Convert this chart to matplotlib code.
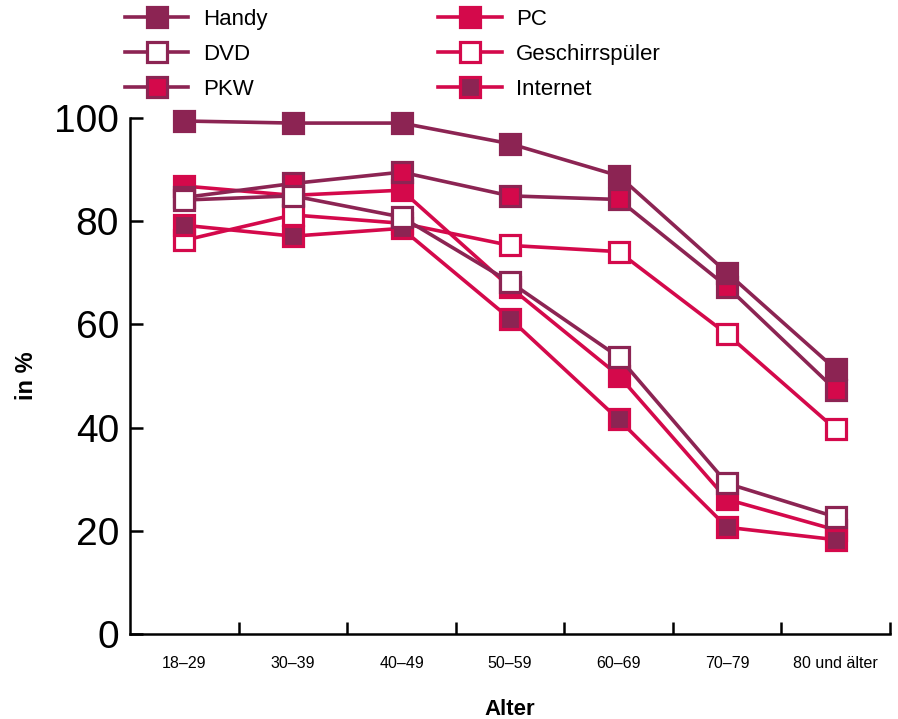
import matplotlib
matplotlib.use("Agg")
import matplotlib.pyplot as plt
from matplotlib.ticker import FixedLocator

plt.rcParams["font.family"] = ["Liberation Sans", "DejaVu Sans"]

DARK = "#8c2453"
RED = "#d4094b"

ages = ["18–29", "30–39", "40–49", "50–59", "60–69", "70–79", "80 und älter"]

handy = [99.4, 99.0, 99.0, 95.0, 88.8, 70.0, 51.3]
dvd = [84.1, 84.9, 80.8, 68.2, 53.7, 29.2, 22.7]
pkw = [84.6, 87.3, 89.5, 84.9, 84.2, 67.3, 47.3]
pc = [86.8, 85.0, 86.0, 67.2, 50.1, 26.1, 20.2]
geschirr = [76.3, 81.2, 79.6, 75.3, 74.1, 58.1, 39.7]
internet = [79.2, 77.1, 78.6, 61.1, 41.6, 20.7, 18.3]

# name, values, line colour, face colour, edge colour, zorder
SERIES = [
    ("PC", pc, RED, RED, RED, 3),
    ("Geschirrspüler", geschirr, RED, "white", RED, 4),
    ("PKW", pkw, DARK, RED, DARK, 5),
    ("Internet", internet, RED, DARK, RED, 6),
    ("Handy", handy, DARK, DARK, DARK, 7),
    ("DVD", dvd, DARK, "white", DARK, 8),
]
LEGEND_ORDER = ["Handy", "DVD", "PKW", "PC", "Geschirrspüler", "Internet"]

fig = plt.figure(figsize=(8.98, 7.19), dpi=100)
ax = fig.add_axes([0.145, 0.118, 0.846, 0.718])

xs = list(range(len(ages)))
handles = {}
for name, values, lc, fc, ec, z in SERIES:
    (line,) = ax.plot(
        xs, values, color=lc, linewidth=2.6, marker="s", markersize=14,
        markerfacecolor=fc, markeredgecolor=ec, markeredgewidth=2.3,
        zorder=z, clip_on=False, label=name,
    )
    handles[name] = line

ax.set_xlim(-0.5, len(ages) - 0.5)
ax.set_ylim(0, 100)
ax.set_yticks([0, 20, 40, 60, 80, 100])
ax.set_xticks(xs)
ax.set_xticklabels(ages, fontsize=11.5)
ax.xaxis.set_minor_locator(FixedLocator([i + 0.5 for i in range(len(ages))]))
ax.tick_params(axis="x", which="major", length=0, pad=16)
ax.tick_params(axis="x", which="minor", direction="in", length=9, width=1.8)
ax.tick_params(axis="y", direction="in", length=9, width=1.8, labelsize=28, pad=8)

for side in ["top", "right"]:
    ax.spines[side].set_visible(False)
for side in ["left", "bottom"]:
    ax.spines[side].set_linewidth(1.8)

ax.set_ylabel("in %", fontsize=17, fontweight="bold", labelpad=12)
ax.set_xlabel("Alter", fontsize=16, fontweight="bold", labelpad=20)

fig.legend(
    [handles[n] for n in LEGEND_ORDER], LEGEND_ORDER,
    loc="upper left", bbox_to_anchor=(125 / 898, 1 - 9 / 719),
    ncol=2, frameon=False, fontsize=16, borderpad=0, borderaxespad=0,
    handlelength=2.85, handletextpad=0.65, columnspacing=7.7, labelspacing=0.62,
)

fig.savefig("out.png", dpi=100)
